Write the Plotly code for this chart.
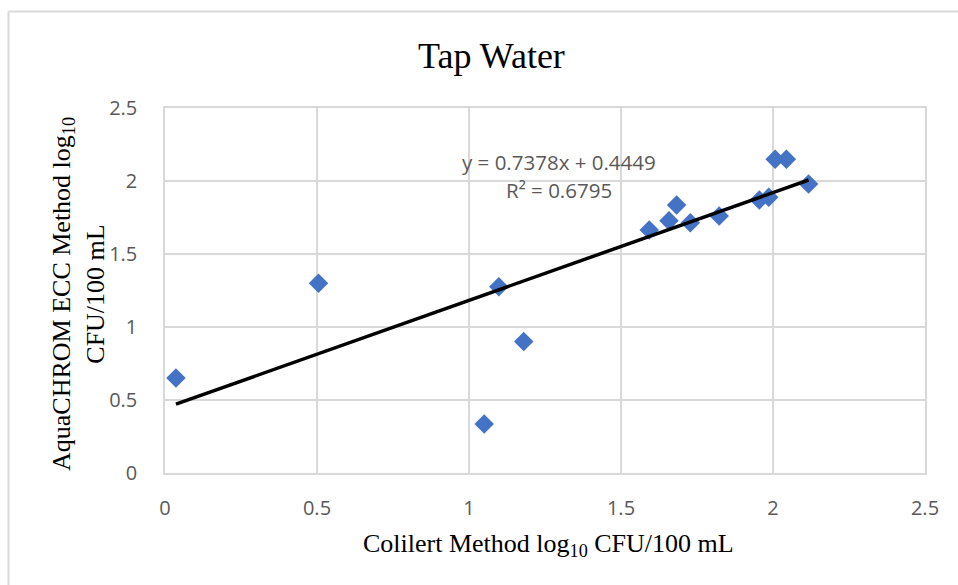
import plotly.graph_objects as go

# ---- data ----
colilert = [0.036, 0.505, 1.098, 1.180, 1.050, 1.593, 1.658, 1.683, 1.728,
            1.823, 1.955, 1.986, 2.007, 2.044, 2.117]
aquachrom = [0.650, 1.300, 1.276, 0.900, 0.336, 1.664, 1.728, 1.836, 1.714,
             1.760, 1.870, 1.888, 2.149, 2.149, 1.979]
slope = 0.7378
intercept = 0.4449
r_squared = 0.6795
x_ticks = [0, 0.5, 1, 1.5, 2, 2.5]
y_ticks = [0, 0.5, 1, 1.5, 2, 2.5]

# ---- layout geometry (pixels) ----
W, H = 958, 585
L, R, T, B = 165, 925, 108, 473
pw, ph = R - L, B - T


def px(x):
    return (x - L) / pw


def py(y):
    return (B - y) / ph


trend_x = [min(colilert), max(colilert)]
trend_y = [slope * v + intercept for v in trend_x]

grid = "#d9d9d9"
tick_font = dict(family="Open Sans", size=20, color="#595959")
eq_font = dict(family="Open Sans", size=20.5, color="#595959")
serif = "Liberation Serif"

fig = go.Figure()
fig.add_trace(go.Scatter(
    x=colilert, y=aquachrom, mode="markers",
    marker=dict(symbol="diamond", size=15, color="#4472C4", line=dict(width=0)),
    hoverinfo="x+y"))
fig.add_trace(go.Scatter(
    x=trend_x, y=trend_y, mode="lines",
    line=dict(color="black", width=3.5), hoverinfo="skip"))

axis_common = dict(showgrid=True, gridcolor=grid, gridwidth=1.5,
                   zeroline=False, showline=True, linecolor=grid, linewidth=1.5,
                   mirror=True, ticks="", tickfont=tick_font, fixedrange=True)

fig.update_xaxes(range=[0, 2.5], tickvals=x_ticks,
                 ticktext=[f"{v:g}" for v in x_ticks],
                 ticklabelstandoff=16, **axis_common)
fig.update_yaxes(range=[0, 2.5], tickvals=y_ticks,
                 ticktext=[f"{v:g}" for v in y_ticks],
                 ticklabelstandoff=22, **axis_common)

annotations = [
    dict(text="Tap Water", x=px(491), y=py(56), xanchor="center", yanchor="middle",
         font=dict(family=serif, size=36, color="black")),
    dict(text="Colilert Method log<sub>10</sub> CFU/100 mL", x=px(548), y=py(545),
         xanchor="center", yanchor="middle",
         font=dict(family=serif, size=26, color="black")),
    dict(text="AquaCHROM ECC Method log<sub>10</sub><br>CFU/100 mL",
         x=px(78), y=py(294), xanchor="center", yanchor="middle", textangle=-90,
         align="center", font=dict(family=serif, size=26, color="black")),
    dict(text=f"y = {slope:.4f}x + {intercept:.4f}", x=px(559), y=py(162),
         xanchor="center", yanchor="middle", font=eq_font),
    dict(text=f"R² = {r_squared:.4f}", x=px(559), y=py(190),
         xanchor="center", yanchor="middle", font=eq_font),
]
for a in annotations:
    a.update(xref="paper", yref="paper", showarrow=False)

shapes = [
    dict(type="line", xref="paper", yref="paper", x0=px(8.5), x1=px(960),
         y0=py(11.5), y1=py(11.5), line=dict(color=grid, width=2)),
    dict(type="line", xref="paper", yref="paper", x0=px(8.5), x1=px(8.5),
         y0=py(11.5), y1=py(590), line=dict(color=grid, width=2)),
]

fig.update_layout(
    width=W, height=H,
    margin=dict(l=L, r=W - R, t=T, b=H - B, autoexpand=False),
    paper_bgcolor="white", plot_bgcolor="white",
    showlegend=False,
    annotations=annotations, shapes=shapes,
)

fig.write_html("out.html", config={"displayModeBar": False})
